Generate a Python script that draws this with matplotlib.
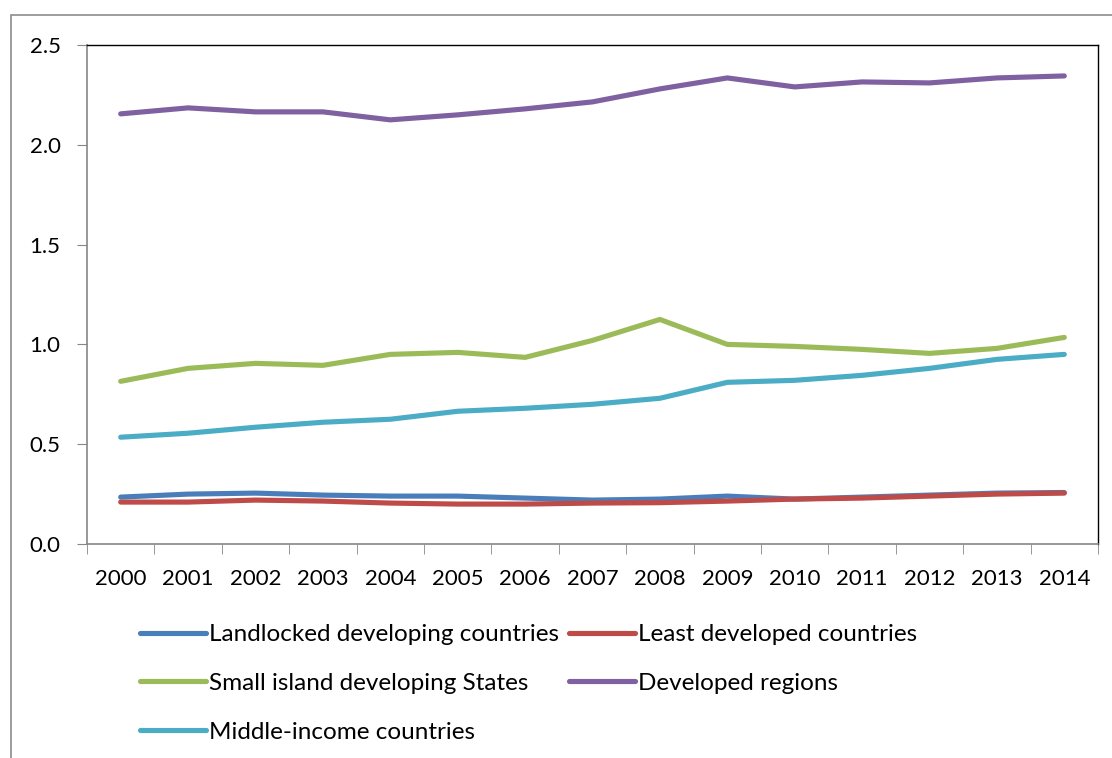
import matplotlib
matplotlib.use("Agg")
import matplotlib.pyplot as plt
from matplotlib.patches import Rectangle

years = [str(y) for y in range(2000, 2015)]
landlocked = [0.235, 0.25, 0.255, 0.245, 0.24, 0.24, 0.23, 0.22, 0.225, 0.24, 0.225, 0.235, 0.245, 0.255, 0.258]
least_dev = [0.21, 0.21, 0.22, 0.215, 0.205, 0.2, 0.2, 0.205, 0.207, 0.215, 0.225, 0.23, 0.24, 0.25, 0.255]
small_island = [0.815, 0.88, 0.905, 0.895, 0.95, 0.96, 0.935, 1.02, 1.125, 1.0, 0.99, 0.975, 0.955, 0.98, 1.035]
developed = [2.155, 2.185, 2.165, 2.165, 2.125, 2.15, 2.18, 2.215, 2.28, 2.335, 2.29, 2.315, 2.31, 2.335, 2.345]
middle_income = [0.535, 0.555, 0.585, 0.61, 0.625, 0.665, 0.68, 0.70, 0.73, 0.81, 0.82, 0.845, 0.88, 0.925, 0.95]

series = [
    ("Landlocked developing countries", landlocked, "#4A7EBB"),
    ("Least developed countries", least_dev, "#BE4B48"),
    ("Small island developing States", small_island, "#9BBB59"),
    ("Developed regions", developed, "#7F60A0"),
    ("Middle-income countries", middle_income, "#4BACC6"),
]

plt.rcParams['font.family'] = ['Lato', 'DejaVu Sans']

fig = plt.figure(figsize=(11.12, 7.58), dpi=100)
ax = fig.add_axes([87/1112, 1-544/758, (1098-87)/1112, (544-45)/758])

x = list(range(len(years)))
handles = {}
for name, vals, col in series:
    ln, = ax.plot(x, vals, color=col, lw=3.7, solid_capstyle='round', solid_joinstyle='round', label=name)
    handles[name] = ln

ax.set_xlim(-0.5, len(years) - 0.5)
ax.set_ylim(0, 2.5)
ax.set_yticks([0, 0.5, 1.0, 1.5, 2.0, 2.5])
ax.set_yticklabels(["0.0", "0.5", "1.0", "1.5", "2.0", "2.5"])
ax.set_xticks(x)
ax.set_xticklabels(years)
ax.set_xticks([i - 0.5 for i in range(len(years) + 1)], minor=True)
ax.tick_params(axis='x', which='major', length=0, pad=18, labelsize=16)
ax.tick_params(axis='x', which='minor', length=7, color='#868686', direction='out')
ax.tick_params(axis='y', length=7, color='#868686', direction='out', labelsize=16, pad=12)
for s in ['left', 'bottom']:
    ax.spines[s].set_color('#868686')
    ax.spines[s].set_linewidth(1.2)
for s in ['top', 'right']:
    ax.spines[s].set_color('black')
    ax.spines[s].set_linewidth(1.0)

order = ["Landlocked developing countries", "Small island developing States", "Middle-income countries",
         "Least developed countries", "Developed regions"]
leg = fig.legend([handles[n] for n in order], order, ncol=2, loc='upper left',
                 bbox_to_anchor=(140/1112, 1-624/758), frameon=False, fontsize=17.5,
                 handlelength=2.7, handletextpad=0.13, columnspacing=0.42, labelspacing=1.15,
                 borderaxespad=0, borderpad=0)
for l in leg.get_lines():
    l.set_linewidth(3.7)

fig.patches.append(Rectangle((11/1112, -0.1), 1.2, 1 - 15/758 + 0.1, transform=fig.transFigure,
                             fill=False, edgecolor='#8c8c8c', lw=1.2, zorder=-1))

fig.savefig("out.png", dpi=100)
